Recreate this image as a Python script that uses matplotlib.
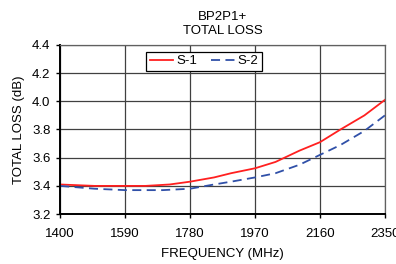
import matplotlib.pyplot as plt

plt.rcParams['font.family'] = ['Liberation Sans', 'DejaVu Sans']

freq_s1 = [1400, 1500, 1590, 1650, 1720, 1780, 1850, 1900, 1970, 2030, 2100, 2160, 2220, 2290, 2350]
loss_s1 = [3.41, 3.40, 3.40, 3.40, 3.41, 3.43, 3.46, 3.49, 3.525, 3.57, 3.65, 3.71, 3.80, 3.90, 4.01]
freq_s2 = [1400, 1500, 1590, 1700, 1780, 1850, 1900, 1970, 2030, 2100, 2160, 2220, 2290, 2350]
loss_s2 = [3.40, 3.38, 3.37, 3.37, 3.38, 3.41, 3.43, 3.46, 3.49, 3.55, 3.62, 3.69, 3.79, 3.90]

xticks = [1400, 1590, 1780, 1970, 2160, 2350]
yticks = [3.2, 3.4, 3.6, 3.8, 4.0, 4.2, 4.4]

fig = plt.figure(figsize=(3.96, 2.64), dpi=100)
ax = fig.add_axes([0.152, 0.189, 0.82, 0.641])

ax.plot(freq_s1, loss_s1, color='#ff2020', lw=1.3, label='S-1')
ax.plot(freq_s2, loss_s2, color='#3050a8', lw=1.3, ls=(0, (5, 3)), label='S-2')

ax.set_xlim(1400, 2350)
ax.set_ylim(3.2, 4.4)
ax.set_xticks(xticks)
ax.set_yticks(yticks)
ax.set_yticklabels(['%.1f' % v for v in yticks])
ax.grid(True, color='#404040', lw=0.9)
ax.tick_params(labelsize=9.5, length=3, width=1, direction='out')
ax.tick_params(axis='x', pad=7)
ax.tick_params(axis='y', pad=4)
for s in ['top', 'right']:
    ax.spines[s].set_color('#606060')
    ax.spines[s].set_linewidth(0.9)
for s in ['left', 'bottom']:
    ax.spines[s].set_linewidth(1.4)

ax.set_xlabel('FREQUENCY (MHz)', fontsize=9.5, labelpad=6)
ax.set_ylabel('TOTAL LOSS (dB)', fontsize=9.5, labelpad=5)
ax.set_title('BP2P1+\nTOTAL LOSS', fontsize=9.5, pad=8, linespacing=1.25)

leg = ax.legend(loc='upper left', bbox_to_anchor=(0.265, 0.959), ncol=2, fontsize=9.5,
                frameon=True, fancybox=False, handlelength=1.8, columnspacing=1.1,
                borderpad=0.25, handletextpad=0.2, borderaxespad=0)
leg.get_frame().set_edgecolor('black')
leg.get_frame().set_linewidth(0.9)
leg.get_frame().set_alpha(1)

fig.savefig('out.png', dpi=100)
